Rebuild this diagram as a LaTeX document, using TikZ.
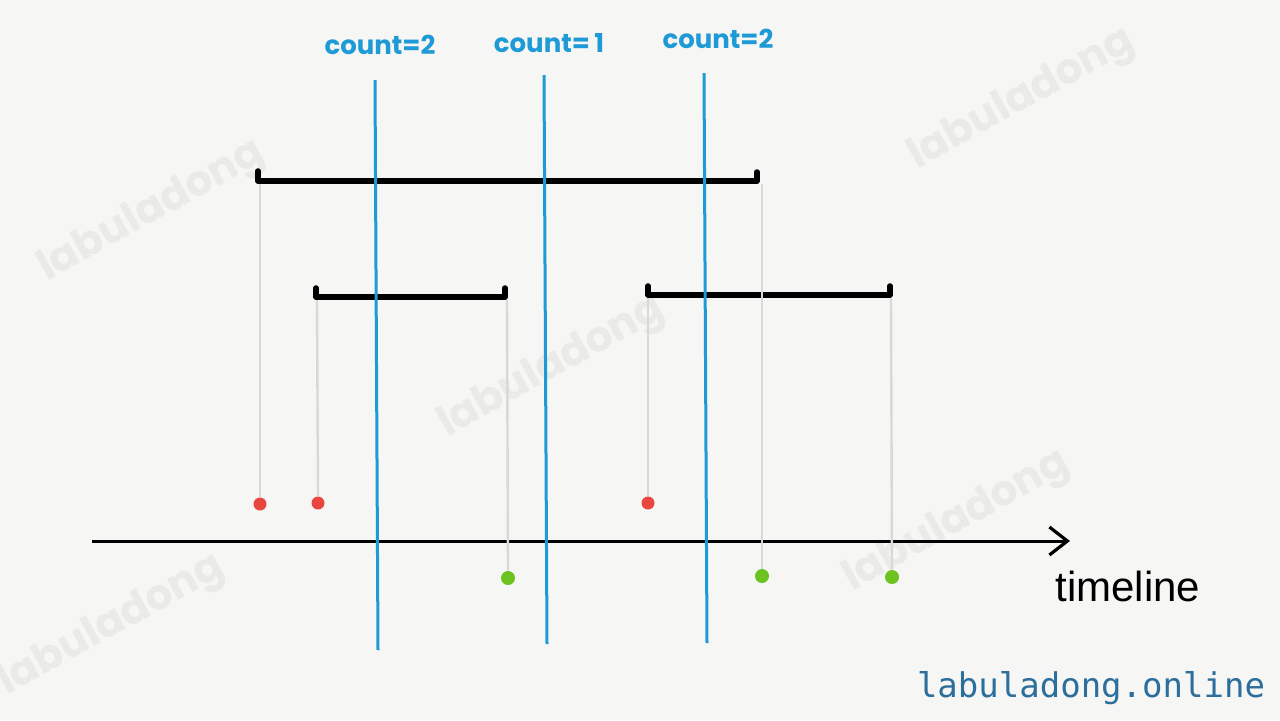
\documentclass[tikz,border=0pt]{standalone}
\usepackage{fontspec}
\setmainfont{Liberation Sans}
\newfontfamily\countfont{Poppins}
\newfontfamily\wmfont{Poppins}
\newfontfamily\urlfont{DejaVu Sans Mono}
\usetikzlibrary{arrows.meta}
\definecolor{bg}{HTML}{F6F6F4}
\definecolor{cblue}{HTML}{1E9AD6}
\definecolor{dred}{HTML}{E8463F}
\definecolor{dgreen}{HTML}{6CC21F}
\definecolor{stem}{HTML}{D8D8D8}
\definecolor{urlblue}{HTML}{2C6E9C}
\definecolor{wm}{HTML}{EAEAE8}
\tikzset{
  scanline/.style={draw=cblue, line width=1.5pt},
  countlbl/.style={text=cblue, font=\countfont\bfseries\fontsize{13}{15}\selectfont, inner sep=0pt},
  bar/.style={draw=black, line width=2.8pt, line cap=round, line join=round},
  stemline/.style={draw=stem, line width=1.2pt},
  reddot/.style={circle, fill=dred, minimum size=6.5pt, inner sep=0pt},
  greendot/.style={circle, fill=dgreen, minimum size=7pt, inner sep=0pt},
  axis/.style={draw=black, line width=1.5pt, -{Straight Barb[length=9pt,width=14pt,line width=1.6pt]}},
  wmark/.style={text=wm, font=\wmfont\bfseries\fontsize{21}{24}\selectfont, rotate=29, inner sep=0pt}
}
\begin{document}
\begin{tikzpicture}[x=0.5pt,y=-0.5pt]
\fill[bg] (0,0) rectangle (1280,720);
\useasboundingbox (0,0) rectangle (1280,720);
% watermarks
\node[wmark] (w1) at (152,212) {labuladong};
\node[wmark] (w2) at (1022,100) {labuladong};
\node[wmark] (w3) at (552,368) {labuladong};
\node[wmark] (w4) at (957,522) {labuladong};
\node[wmark] (w5) at (112,626) {labuladong};
% timeline
\coordinate (t0) at (92,541);
\coordinate (t1) at (1070,541);
\draw[axis] (t0) -- (t1);
\node[font=\fontsize{21}{24}\selectfont, inner sep=0pt] (tl) at (1128,586) {timeline};
% bars
\coordinate (a1) at (258,181); \coordinate (a1t) at (258,171);
\coordinate (a2) at (757,181); \coordinate (a2t) at (757,172);
\draw[bar] (a1t) -- (a1) -- (a2) -- (a2t);
\coordinate (b1) at (316,297); \coordinate (b1t) at (316,288);
\coordinate (b2) at (505,297); \coordinate (b2t) at (505,288);
\draw[bar] (b1t) -- (b1) -- (b2) -- (b2t);
\coordinate (c1) at (648,295); \coordinate (c1t) at (648,286);
\coordinate (c2) at (890,295); \coordinate (c2t) at (890,286);
\draw[bar] (c1t) -- (c1) -- (c2) -- (c2t);
% dots
\node[reddot] (r1) at (260,504) {};
\node[reddot] (r2) at (318,503) {};
\node[reddot] (r3) at (648,503) {};
\node[greendot] (g1) at (508,578) {};
\node[greendot] (g2) at (762,576) {};
\node[greendot] (g3) at (892,577) {};
% stems
\coordinate (a1s) at (260,184); \coordinate (b1s) at (317,300);
\coordinate (b2s) at (507,300); \coordinate (c1s) at (648,298);
\coordinate (a2s) at (762,184); \coordinate (c2s) at (891,298);
\draw[stemline] (a1s) -- (r1.north);
\draw[stemline] (b1s) -- (r2.north);
\draw[stemline] (c1s) -- (r3.north);
\draw[stemline] (b2s) -- (g1.north);
\draw[stemline] (a2s) -- (g2.north);
\draw[stemline] (c2s) -- (g3.north);
% scan lines
\coordinate (s1t) at (375,80);  \coordinate (s1b) at (378,650);
\coordinate (s2t) at (544,75);  \coordinate (s2b) at (547,644);
\coordinate (s3t) at (704,73);  \coordinate (s3b) at (707,643);
\draw[scanline] (s1t) -- (s1b);
\draw[scanline] (s2t) -- (s2b);
\draw[scanline] (s3t) -- (s3b);
\node[countlbl] (k1) at (380,45) {count=2};
\node[countlbl] (k2) at (549,43) {count=\,1};
\node[countlbl] (k3) at (718,39) {count=2};
% site label
\node[text=urlblue, font=\urlfont\fontsize{17}{20}\selectfont, inner sep=0pt] (url) at (1091,688) {labuladong.online};
\end{tikzpicture}
\end{document}
